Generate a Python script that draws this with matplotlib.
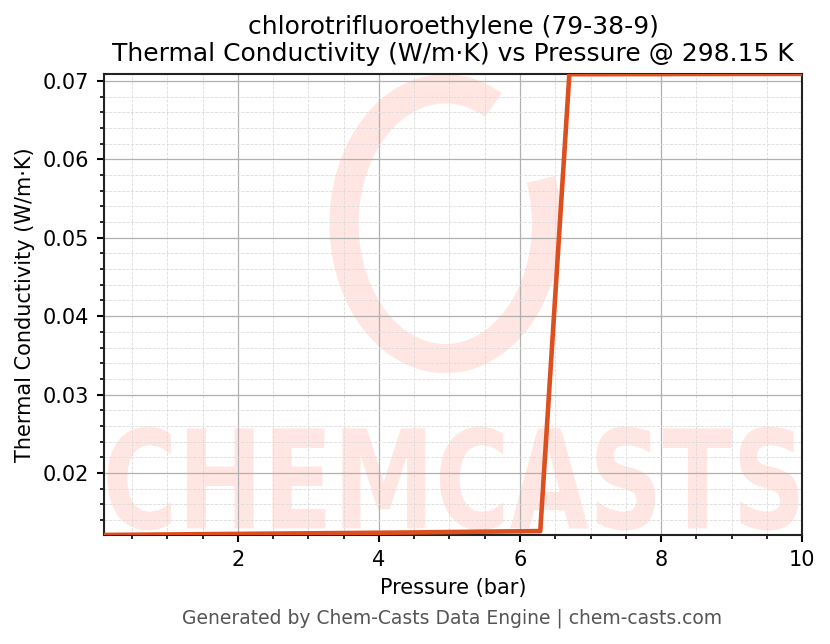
import numpy as np
import matplotlib
matplotlib.use("Agg")
import matplotlib.pyplot as plt
from matplotlib.ticker import MultipleLocator
from matplotlib.patches import Arc, PathPatch
from matplotlib.textpath import TextPath
from matplotlib.font_manager import FontProperties
from matplotlib.transforms import Affine2D

# Data
pressure_bar = np.linspace(0.1, 10.0, 25)
gas_k = [0.01210, 0.01213, 0.01216, 0.01219, 0.01222, 0.01225, 0.01228, 0.01231,
         0.01234, 0.01237, 0.01240, 0.01244, 0.01248, 0.01252, 0.01256, 0.01260]
liquid_k = [0.07085, 0.07085, 0.07086, 0.07086, 0.07087, 0.07087, 0.07088, 0.07088,
            0.07089]
conductivity = np.array(gas_k + liquid_k)

title = "chlorotrifluoroethylene (79-38-9)\nThermal Conductivity (W/m\u00b7K) vs Pressure @ 298.15 K"
xlabel = "Pressure (bar)"
ylabel = "Thermal Conductivity (W/m\u00b7K)"
footer = "Generated by Chem-Casts Data Engine | chem-casts.com"

fig = plt.figure(figsize=(830 / 150, 644 / 150), dpi=150)
ax = fig.add_axes([0.1253, 0.1693, 0.841, 0.716])

wm = (1.0, 0.90, 0.885)
# watermark logo ring
ax.add_patch(Arc((0.489, 0.675), 0.29, 0.585, theta1=75, theta2=395, transform=ax.transAxes,
                 edgecolor=wm, linewidth=14, zorder=0))
# watermark text fitted to box
tp = TextPath((0, 0), "CHEMCASTS", prop=FontProperties(family="DejaVu Sans", weight="bold"))
bb = tp.get_extents()
x0, x1, y0, y1 = 0.005, 0.995, 0.01, 0.235
tr = Affine2D().translate(-bb.x0, -bb.y0).scale((x1 - x0) / bb.width, (y1 - y0) / bb.height).translate(x0, y0)
ax.add_patch(PathPatch(tr.transform_path(tp), transform=ax.transAxes,
                       facecolor=wm, edgecolor="none", zorder=0))

ax.plot(pressure_bar, conductivity, color="#DC5020", linewidth=2.2, zorder=3)

ax.set_xlim(pressure_bar.min(), pressure_bar.max())
ax.set_ylim(conductivity.min(), conductivity.max())
ax.xaxis.set_major_locator(MultipleLocator(2))
ax.xaxis.set_minor_locator(MultipleLocator(0.5))
ax.yaxis.set_major_locator(MultipleLocator(0.01))
ax.yaxis.set_minor_locator(MultipleLocator(0.002))
ax.grid(which="major", color="#b0b0b0", linewidth=0.6)
ax.grid(which="minor", color="#dcdcdc", linestyle="--", linewidth=0.4)
ax.set_axisbelow(True)
ax.tick_params(axis="both", which="major", labelsize=10, length=3.5, width=1)
ax.tick_params(axis="both", which="minor", length=2, width=0.8)
for s in ax.spines.values():
    s.set_linewidth(1.0)
    s.set_color("#222222")

ax.set_xlabel(xlabel, fontsize=10)
ax.set_ylabel(ylabel, fontsize=10)
ax.set_title(title, fontsize=12, pad=6)
fig.text(0.545, 0.04, footer, ha="center", va="center", fontsize=9, color="#555555")

fig.savefig("out.png", dpi=150)
